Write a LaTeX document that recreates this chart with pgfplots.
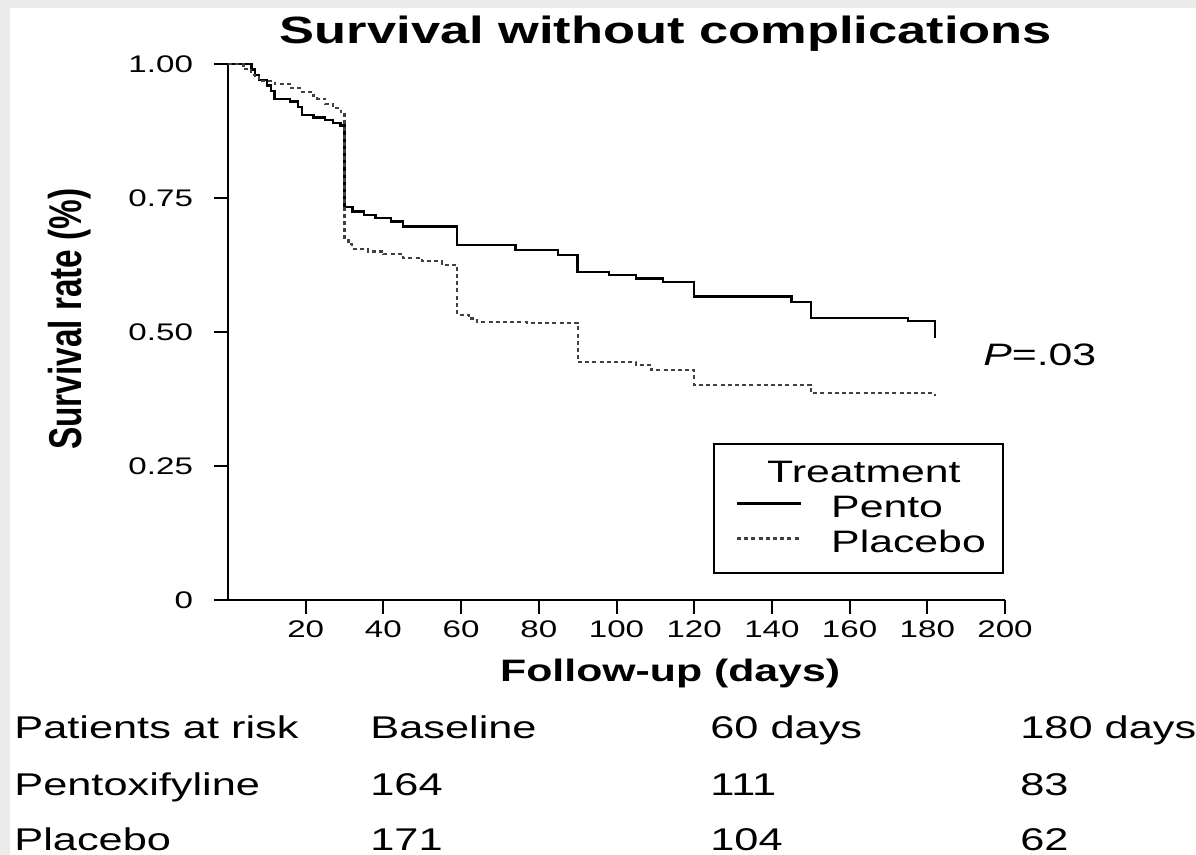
\documentclass[border=0pt]{standalone}
\usepackage{pgfplots}
\pgfplotsset{compat=1.18}
\usepackage{fontspec}
\setmainfont{Liberation Sans}[FakeStretch=1.38]
\newfontfamily\ylabfont{Liberation Sans}[FakeStretch=0.725]

\pgfplotstableread{
day surv
0 1.000
6 0.990
7 0.980
8 0.970
10 0.960
11 0.950
12 0.935
16 0.930
18 0.920
19 0.905
22 0.900
25 0.895
27 0.890
29 0.885
30 0.733
32 0.725
35 0.718
38 0.713
42 0.706
45 0.697
59 0.662
74 0.653
85 0.644
90 0.612
98 0.606
105 0.600
112 0.593
120 0.566
145 0.556
150 0.526
175 0.520
182 0.489
}\pento

\pgfplotstableread{
day surv
0 1.000
4 0.990
6 0.980
7 0.975
8 0.968
12 0.962
16 0.955
19 0.948
22 0.940
23 0.935
25 0.925
27 0.918
29 0.910
30 0.672
31 0.664
32 0.655
36 0.650
40 0.645
45 0.638
50 0.632
55 0.625
59 0.532
62 0.525
64 0.519
77 0.517
90 0.444
105 0.438
109 0.429
120 0.401
150 0.386
182 0.380
}\placebo

\begin{document}
\begin{tikzpicture}[x=1pt,y=1pt]
\path[use as bounding box] (0,0) rectangle (598,427.5);
\fill[black!8] (0,0) rectangle (598,427.5);
\fill[white] (5,0) rectangle (598,423.5);
\begin{axis}[
  at={(114pt,127.5pt)}, anchor=south west,
  width=388.5pt, height=268pt, scale only axis,
  xmin=0, xmax=200, ymin=0, ymax=1,
  axis x line=bottom, axis y line=left,
  axis line style={-, line width=1pt, black},
  tick align=outside, major tick length=7pt,
  tick style={line width=1pt, black},
  xtick={20,40,60,80,100,120,140,160,180,200},
  xticklabels={20,40,60,80,100,120,140,160,180,200},
  ytick={0,0.25,0.5,0.75,1},
  yticklabels={0,0.25,0.50,0.75,1.00},
  ticklabel style={font=\fontsize{12}{14}\selectfont},
  yticklabel style={xshift=-7pt},
  clip=false,
  title={\textbf{Survival without complications}},
  title style={at={(axis description cs:0.5637,1.015)}, anchor=base, font=\fontsize{19}{22}\selectfont},
  xlabel={\textbf{Follow-up (days)}},
  xlabel style={at={(axis description cs:0.569,-0.153)}, anchor=base, font=\fontsize{15.5}{18}\selectfont},
  ylabel={\textbf{Survival rate (\%)}},
  ylabel style={at={(axis description cs:-0.2033,0.524)}, anchor=center, font=\ylabfont\fontsize{23}{26}\selectfont},
  legend style={at={(axis description cs:0.624,0.293)}, anchor=north west, draw=black, line width=1pt,
    inner xsep=7.5pt, inner ysep=6pt, font=\fontsize{15.5}{18}\selectfont,
    nodes={text height=12.5pt, text depth=3pt, inner sep=1pt}, column sep=13.5pt, row sep=0pt},
  legend cell align=left,
  legend image code/.code={\path (0pt,2.5pt); \draw[#1] (3.5pt,2.5pt) -- (35.5pt,2.5pt);},
]
\addlegendimage{empty legend}
\addlegendentry{\hspace*{-32pt}Treatment}
\addplot[const plot, black, line width=1.2pt] table[x=day, y=surv] {\pento};
\addlegendentry{Pento}
\addplot[const plot, black!75, line width=1.1pt, dash pattern=on 2pt off 1.6pt] table[x=day, y=surv] {\placebo};
\addlegendentry{Placebo}
\node[anchor=base west, inner sep=0pt, font=\fontsize{15.5}{18}\selectfont] at (axis cs:194.3,0.4366) {\textit{P}=.03};
\end{axis}
\begin{scope}[every node/.style={anchor=base west, inner sep=0pt, font=\fontsize{15.7}{18}\selectfont}]
\node at (7,58) {Patients at risk};
\node at (185,58) {Baseline};
\node at (355,58) {60 days};
\node at (510,58) {180 days};
\node at (7,29.5) {Pentoxifyline};
\node at (185,29.5) {164};
\node at (355,29.5) {111};
\node at (510,29.5) {83};
\node at (7,2) {Placebo};
\node at (185,2) {171};
\node at (355,2) {104};
\node at (510,2) {62};
\end{scope}
\end{tikzpicture}
\end{document}
